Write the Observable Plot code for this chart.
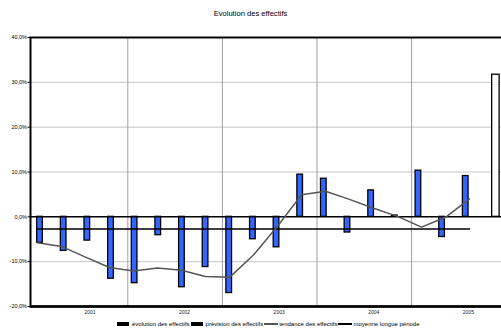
<!DOCTYPE html>
<html>
<head>
<meta charset="utf-8">
<script src="https://cdn.jsdelivr.net/npm/d3@7"></script>
<script src="https://cdn.jsdelivr.net/npm/@observablehq/plot@0.6"></script>
<style>
  html, body { margin: 0; padding: 0; background: #fff; overflow: hidden; }
  #chart { position: relative; width: 501px; height: 332px; font-family: "Liberation Sans", Arial, sans-serif; color: #000; }
  #chart svg { position: absolute; left: 0; top: 0; overflow: hidden; }
  #title { position: absolute; top: 9px; left: 0; width: 501px; text-align: center; font-size: 7.6px; }
  #legend { position: absolute; top: 321px; left: 117px; display: flex; align-items: center; font-size: 6px; white-space: nowrap; }
  #legend .item { display: flex; align-items: center; margin-right: 1px; }
  #legend .sw { display: inline-block; width: 12px; height: 4px; background: #000; margin-right: 3px; }
  #legend .ln { display: inline-block; width: 14px; background: #000; margin-right: 1px; }
</style>
</head>
<body>
<div id="chart">
  <div id="title">Evolution des effectifs</div>
  <div id="legend"></div>
</div>
<script>
// Quarterly headcount change (%), 2001 T1 to 2005 T4
const quarters = [
  "2001 T1", "2001 T2", "2001 T3", "2001 T4",
  "2002 T1", "2002 T2", "2002 T3", "2002 T4",
  "2003 T1", "2003 T2", "2003 T3", "2003 T4",
  "2004 T1", "2004 T2", "2004 T3", "2004 T4",
  "2005 T1", "2005 T2", "2005 T3", "2005 T4"
];
const evolution = [-5.8, -7.6, -5.3, -13.8, -14.8, -4.1, -15.7, -11.2, -17.0, -5.0,
                   -6.8, 9.4, 8.5, -3.5, 5.9, 0.3, 10.3, -4.5, 9.1, null];
const prevision = [null, null, null, null, null, null, null, null, null, null,
                   null, null, null, null, null, null, null, null, null, 31.7];
const tendance = [-5.8, -6.6, -9.0, -11.3, -12.1, -11.4, -11.9, -13.3, -13.5, -8.5,
                  -2.1, 4.9, 5.7, 3.9, 1.9, 0.1, -2.3, -0.1, 4.0];
const moyenne = [-2.7, -2.7, -2.7, -2.7, -2.7, -2.7, -2.7, -2.7, -2.7, -2.7,
                 -2.7, -2.7, -2.7, -2.7, -2.7, -2.7, -2.7, -2.7, -2.7];
const years = [2001, 2002, 2003, 2004, 2005];
const yTicks = [-20, -10, 0, 10, 20, 30, 40];
const gridValues = [-10, 10, 20, 30];

const W = 501, H = 332;
const frame = {marginTop: 37, marginBottom: 26, marginLeft: 30, marginRight: -3};
const yDomain = [-20, 40];
const font = {fontFamily: "'Liberation Sans', Arial, sans-serif", fontSize: "5.5px", background: "transparent", overflow: "hidden"};

const barRows = quarters.map((q, i) => ({q, i, evol: evolution[i], prev: prevision[i]}));
const lineRows = tendance.map((t, i) => ({q: quarters[i], tendance: t, moyenne: moyenne[i]}));
// year boundaries sit at the first quarter of each year; labels under the third quarter
const yearStart = y => quarters.indexOf(`${y} T1`);
const yearLabelPos = y => quarters.indexOf(`${y} T3`) + 0.4;

const fmtPct = d => d.toFixed(1).replace(".", ",") + "%";

const bars = Plot.plot({
  width: W, height: H, ...frame,
  style: font,
  x: {type: "linear", domain: [0, quarters.length], range: [32.7, 32.7 + 23.65 * quarters.length], axis: null},
  y: {domain: yDomain, ticks: yTicks, tickFormat: fmtPct, tickSize: 2.5, tickPadding: 1, label: null},
  marks: [
    Plot.ruleY(gridValues, {stroke: "#c4c4c4", strokeWidth: 1}),
    Plot.ruleX(years.slice(1).map(yearStart), {stroke: "#a0a0a0", strokeWidth: 1}),
    Plot.rectY(barRows.filter(d => d.evol != null), {
      x: "i", interval: 1, y: "evol",
      fill: "#3366ff", stroke: "#000", strokeWidth: 1.3,
      insetLeft: 4, insetRight: 14
    }),
    Plot.rectY(barRows.filter(d => d.prev != null), {
      x: "i", interval: 1, y: "prev",
      fill: "#fff", stroke: "#000", strokeWidth: 1.3,
      insetLeft: 9.6, insetRight: 6.6
    }),
    Plot.ruleY([0], {stroke: "#000", strokeWidth: 1.5}),
    Plot.ruleY([-20], {stroke: "#000", strokeWidth: 2.5}),
    Plot.frame({stroke: "#000", strokeWidth: 2}),
    Plot.text(years, {
      x: yearLabelPos, frameAnchor: "bottom", dy: 7.5,
      text: d => String(d), fontSize: 5, fill: "#222"
    })
  ]
});

const lines = Plot.plot({
  width: W, height: H, ...frame,
  style: font,
  x: {type: "point", domain: quarters.slice(0, tendance.length), range: [35.7, 470.7], padding: 0, axis: null},
  y: {domain: yDomain, axis: null},
  marks: [
    Plot.lineY(lineRows, {x: "q", y: "moyenne", stroke: "#000", strokeWidth: 1.5}),
    Plot.lineY(lineRows, {x: "q", y: "tendance", stroke: "#555", strokeWidth: 1.5})
  ]
});

const chart = document.getElementById("chart");
chart.appendChild(bars);
chart.appendChild(lines);
chart.appendChild(document.getElementById("title"));
chart.appendChild(document.getElementById("legend"));

// Legend
const legendItems = [
  {label: "évolution des effectifs", kind: "sw"},
  {label: "prévision des effectifs", kind: "sw"},
  {label: "tendance des effectifs", kind: "ln", color: "#555", h: 1.5},
  {label: "moyenne longue période", kind: "ln", color: "#000", h: 2}
];
const legend = document.getElementById("legend");
for (const it of legendItems) {
  const item = document.createElement("span");
  item.className = "item";
  const key = document.createElement("span");
  key.className = it.kind;
  if (it.kind === "ln") { key.style.height = it.h + "px"; key.style.background = it.color; }
  item.appendChild(key);
  item.appendChild(document.createTextNode(it.label));
  legend.appendChild(item);
}
</script>
</body>
</html>
